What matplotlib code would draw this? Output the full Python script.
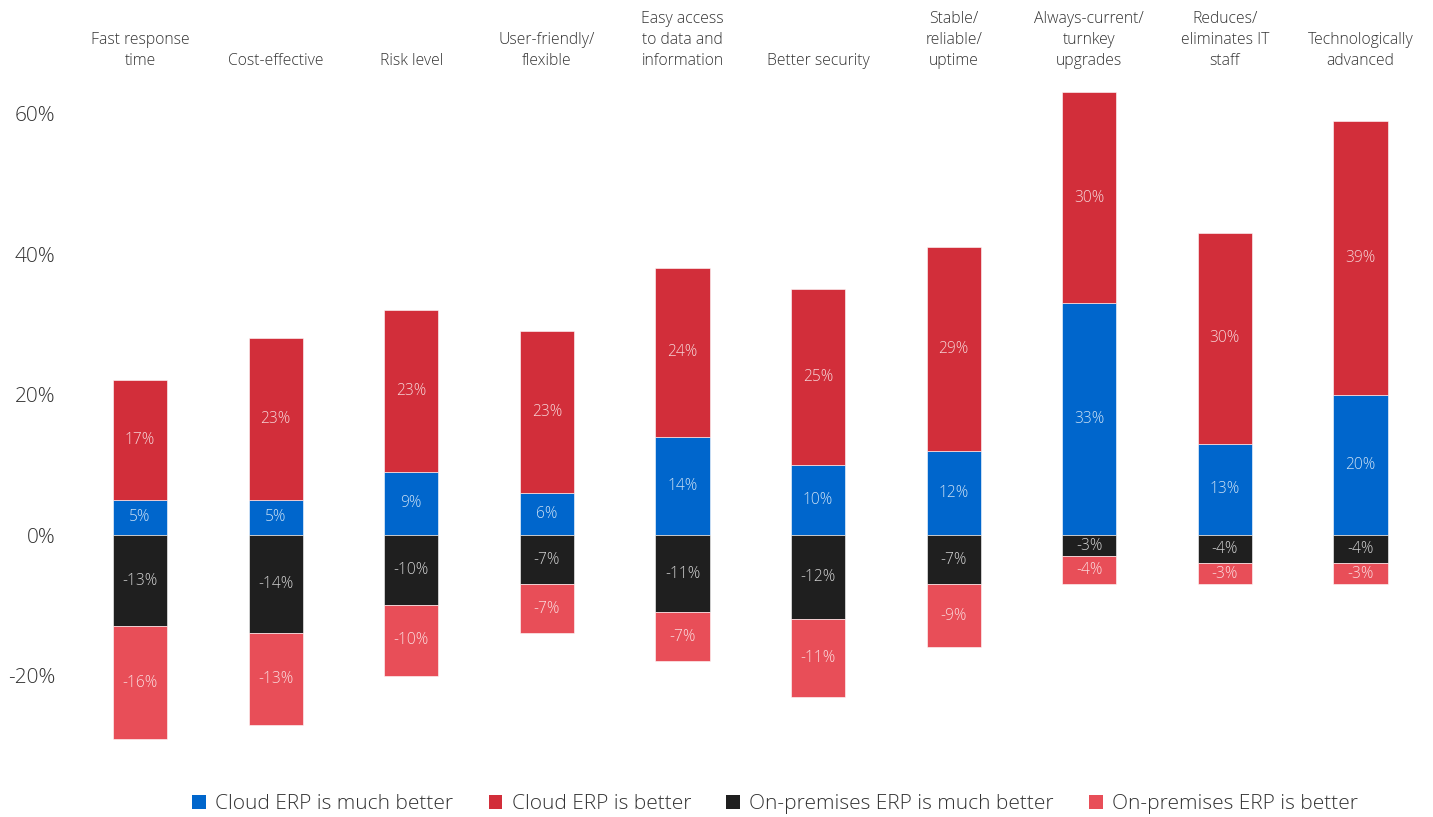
import numpy as np
import matplotlib.pyplot as plt
from matplotlib.patches import Patch

plt.rcParams['font.family'] = ['Open Sans', 'DejaVu Sans']
plt.rcParams['font.weight'] = 'light'

categories = ['Fast response\ntime', 'Cost-effective', 'Risk level',
              'User-friendly/\nflexible', 'Easy access\nto data and\ninformation',
              'Better security', 'Stable/\nreliable/\nuptime',
              'Always-current/\nturnkey\nupgrades', 'Reduces/\neliminates IT\nstaff',
              'Technologically\nadvanced']

cloud_much_better = [5, 5, 9, 6, 14, 10, 12, 33, 13, 20]
cloud_better = [17, 23, 23, 23, 24, 25, 29, 30, 30, 39]
onprem_much_better = [-13, -14, -10, -7, -11, -12, -7, -3, -4, -4]
onprem_better = [-16, -13, -10, -7, -7, -11, -9, -4, -3, -3]

series_names = ['Cloud ERP is much better', 'Cloud ERP is better',
                'On-premises ERP is much better', 'On-premises ERP is better']
colors = ['#0066CC', '#D22E3A', '#1F1F1F', '#E84E58']

text_color = '#333333'

fig = plt.figure(figsize=(14.33, 8.17), dpi=100)
ax = fig.add_axes([0.0504, 0.0872, 0.9463, 0.8168])

x = np.arange(len(categories))
width = 0.4

cmb = np.array(cloud_much_better)
cb = np.array(cloud_better)
omb = np.array(onprem_much_better)
ob = np.array(onprem_better)

# positive stack: blue at the bottom, red on top
b1 = ax.bar(x, cmb, width, color=colors[0], edgecolor='white', linewidth=0.4)
b2 = ax.bar(x, cb, width, bottom=cmb, color=colors[1], edgecolor='white', linewidth=0.4)
# negative stack: black next to zero, pink below
b3 = ax.bar(x, omb, width, color=colors[2], edgecolor='white', linewidth=0.4)
b4 = ax.bar(x, ob, width, bottom=omb, color=colors[3], edgecolor='white', linewidth=0.4)

for bars, vals, bottoms in [(b1, cmb, 0 * cmb), (b2, cb, cmb),
                            (b3, omb, 0 * omb), (b4, ob, omb)]:
    for rect, v, b in zip(bars, vals, bottoms):
        ax.text(rect.get_x() + rect.get_width() / 2, b + v / 2, f'{v}%',
                ha='center', va='center', fontsize=11.2, color='white', alpha=0.8)

# category names above the bars
for xi, name in zip(x, categories):
    ax.text(xi, 66.4, name, ha='center', va='bottom', fontsize=11.3,
            color=text_color, linespacing=1.38)

ax.set_xlim(-0.5, 9.5)
ax.set_ylim(-30, 65)
ax.set_yticks([-20, 0, 20, 40, 60])
ax.set_yticklabels(['-20%', '0%', '20%', '40%', '60%'])
ax.tick_params(axis='y', length=0, labelsize=15, labelcolor=text_color, pad=12)
ax.set_xticks([])
for s in ax.spines.values():
    s.set_visible(False)

handles = [Patch(facecolor=c, edgecolor='none') for c in colors]
fig.legend(handles, series_names, loc='center', bbox_to_anchor=(0.541, 0.016),
           ncol=4, frameon=False, fontsize=15, handlelength=0.65, handleheight=0.65,
           handletextpad=0.45, columnspacing=1.7, labelcolor=text_color)

fig.savefig('out.png', dpi=100)
